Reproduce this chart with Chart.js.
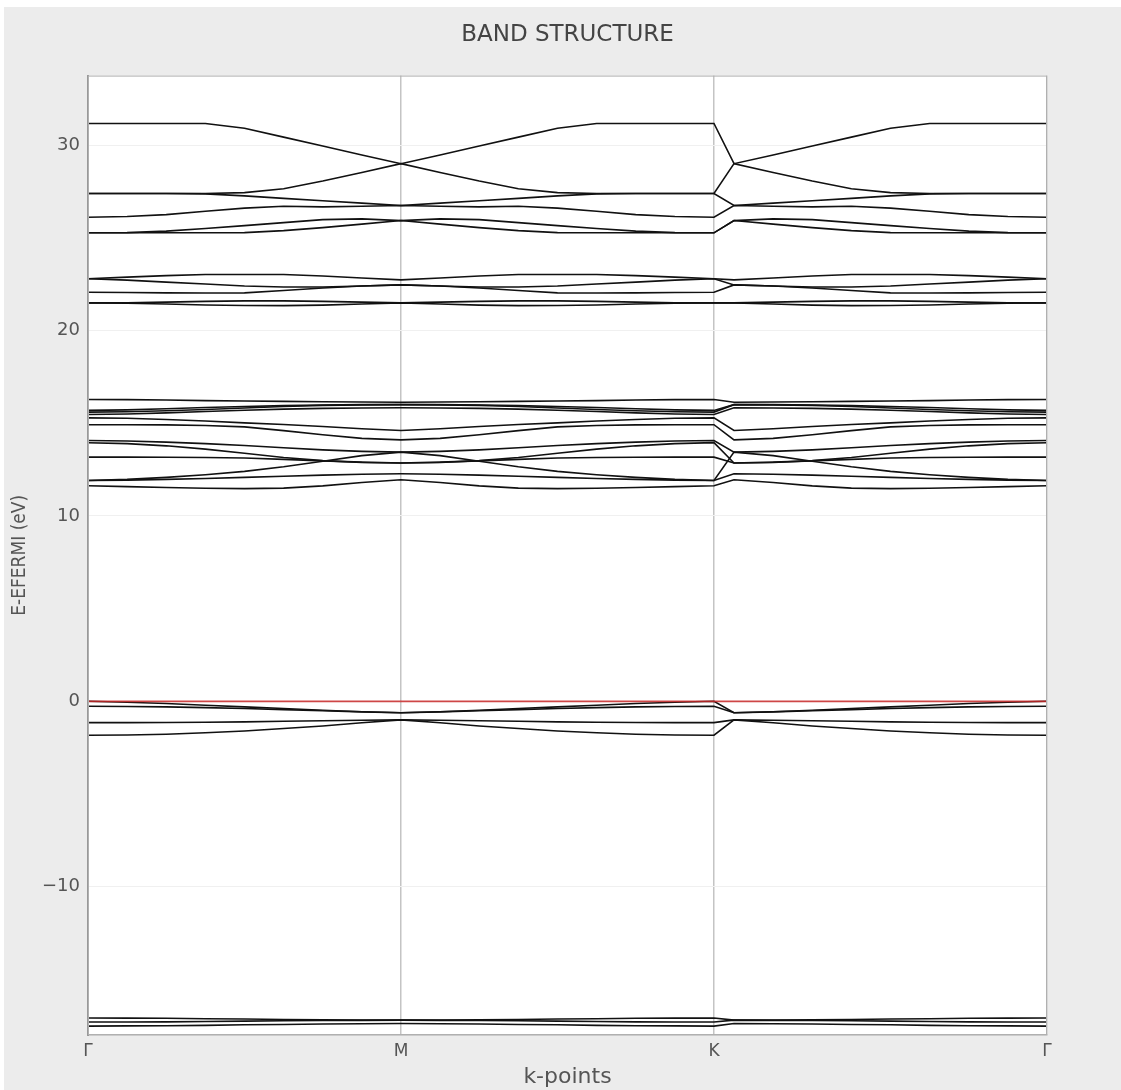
<!DOCTYPE html>
<html>
<head>
<meta charset="utf-8">
<script src="https://cdn.jsdelivr.net/npm/chart.js@4.4.1/dist/chart.umd.min.js"></script>
<style>
  body { margin: 0; background: #fff; }
  #wrap { position: absolute; left: 4px; top: 7px; width: 1117px; height: 1083px; background: #ececec; }
</style>
</head>
<body>
<div id="wrap"><canvas id="bands" width="1117" height="1083"></canvas></div>
<script>
// k-path distances (G-M, M-K, jump to K', K'-G) and labels
var kDist = [0, 0.125, 0.25, 0.375, 0.5, 0.625, 0.75, 0.875, 1,
	1.125, 1.25, 1.375, 1.5, 1.625, 1.75, 1.875, 2,
	2.064,
	2.189, 2.314, 2.439, 2.564, 2.689, 2.814, 2.939, 3.064];
var kTicks = [0, 1, 2, 3.064];
var kLabels = ['Γ', 'M', 'K', 'Γ'];
var yTicks = [-10, 0, 10, 20, 30];
var fermiLevel = 0;

// upper conduction bands (25-31 eV)
var b01 = [31.17,31.17,31.17,31.17,30.91,30.43,29.95,29.47,29.0, 29.47,29.95,30.43,30.91,31.17,31.17,31.17,31.17, 29.0, 29.47,29.95,30.43,30.91,31.17,31.17,31.17,31.17];
var b02 = [27.39,27.39,27.39,27.39,27.44,27.65,28.06,28.52,29.0, 28.52,28.06,27.65,27.44,27.39,27.39,27.39,27.39, 29.0, 28.52,28.06,27.65,27.44,27.39,27.39,27.39,27.39];
var b03 = [27.39,27.39,27.39,27.37,27.26,27.13,27.0,26.87,26.74, 26.87,27.0,27.13,27.26,27.37,27.39,27.39,27.39, 26.74, 26.87,27.0,27.13,27.26,27.37,27.39,27.39,27.39];
var b04 = [26.11,26.15,26.25,26.43,26.6,26.7,26.67,26.7,26.74, 26.7,26.67,26.7,26.6,26.43,26.25,26.15,26.11, 26.74, 26.7,26.67,26.7,26.6,26.43,26.25,26.15,26.11];
var b05 = [25.27,25.28,25.36,25.5,25.66,25.82,25.98,26.02,25.93, 26.02,25.98,25.82,25.66,25.5,25.36,25.28,25.27, 25.93, 26.02,25.98,25.82,25.66,25.5,25.36,25.28,25.27];
var b06 = [25.27,25.27,25.27,25.27,25.28,25.39,25.55,25.74,25.93, 25.74,25.55,25.39,25.28,25.27,25.27,25.27,25.27, 25.93, 25.74,25.55,25.39,25.28,25.27,25.27,25.27,25.27];

// 21-23 eV
var b07 = [22.79,22.88,22.96,23.02,23.02,23.02,22.94,22.83,22.73, 22.83,22.94,23.02,23.02,23.02,22.96,22.88,22.79, 22.73, 22.83,22.94,23.02,23.02,23.02,22.96,22.88,22.79];
var b08 = [22.79,22.72,22.61,22.51,22.4,22.35,22.35,22.4,22.46, 22.4,22.35,22.35,22.4,22.51,22.61,22.72,22.79, 22.46, 22.4,22.35,22.35,22.4,22.51,22.61,22.72,22.79];
var b09 = [22.06,22.05,22.03,22.02,22.03,22.16,22.29,22.4,22.46, 22.4,22.29,22.16,22.03,22.02,22.03,22.05,22.06, 22.46, 22.4,22.29,22.16,22.03,22.02,22.03,22.05,22.06];
var b10 = [21.49,21.5,21.53,21.57,21.6,21.6,21.57,21.53,21.49, 21.53,21.57,21.6,21.6,21.57,21.53,21.5,21.49, 21.49, 21.53,21.57,21.6,21.6,21.57,21.53,21.5,21.49];
var b11 = [21.49,21.47,21.43,21.38,21.35,21.34,21.37,21.43,21.49, 21.43,21.37,21.34,21.35,21.38,21.43,21.47,21.49, 21.49, 21.43,21.37,21.34,21.35,21.38,21.43,21.47,21.49];

// 11-16.5 eV
var b12 = [16.28,16.27,16.25,16.22,16.2,16.18,16.16,16.14,16.13, 16.14,16.16,16.18,16.2,16.22,16.25,16.27,16.28, 16.13, 16.14,16.16,16.18,16.2,16.22,16.25,16.27,16.28];
var b13 = [15.69,15.72,15.78,15.85,15.9,15.95,15.98,16.0,16.0, 16.0,15.98,15.95,15.9,15.85,15.78,15.72,15.69, 16.0, 16.0,15.98,15.95,15.9,15.85,15.78,15.72,15.69];
var b14 = [15.6,15.62,15.67,15.74,15.82,15.9,15.96,15.99,16.0, 15.99,15.96,15.9,15.82,15.74,15.67,15.62,15.6, 16.0, 15.99,15.96,15.9,15.82,15.74,15.67,15.62,15.6];
var b15 = [15.47,15.5,15.56,15.63,15.7,15.76,15.8,15.82,15.83, 15.82,15.8,15.76,15.7,15.63,15.56,15.5,15.47, 15.83, 15.82,15.8,15.76,15.7,15.63,15.56,15.5,15.47];
var b16 = [15.29,15.27,15.2,15.12,15.02,14.93,14.82,14.7,14.61, 14.7,14.82,14.93,15.02,15.12,15.2,15.27,15.29, 14.61, 14.7,14.82,14.93,15.02,15.12,15.2,15.27,15.29];
var b17 = [14.92,14.92,14.91,14.88,14.8,14.6,14.38,14.18,14.1, 14.18,14.38,14.6,14.8,14.88,14.91,14.92,14.92, 14.1, 14.18,14.38,14.6,14.8,14.88,14.91,14.92,14.92];
var b18 = [14.07,14.04,13.98,13.9,13.8,13.68,13.56,13.48,13.44, 13.48,13.56,13.68,13.8,13.9,13.98,14.04,14.07, 13.44, 13.48,13.56,13.68,13.8,13.9,13.98,14.04,14.07];
var b19 = [13.95,13.9,13.78,13.6,13.38,13.15,12.98,12.88,12.85, 12.88,12.98,13.15,13.38,13.6,13.78,13.9,13.95, 12.85, 12.88,12.98,13.15,13.38,13.6,13.78,13.9,13.95];
var b20 = [13.17,13.17,13.16,13.15,13.12,13.05,12.97,12.9,12.85, 12.9,12.97,13.05,13.12,13.15,13.16,13.17,13.17, 12.85, 12.9,12.97,13.05,13.12,13.15,13.16,13.17,13.17];
var b21 = [11.91,11.97,12.08,12.22,12.4,12.65,12.95,13.25,13.44, 13.25,12.95,12.65,12.4,12.22,12.08,11.97,11.91, 13.44, 13.25,12.95,12.65,12.4,12.22,12.08,11.97,11.91];
var b22 = [11.91,11.93,11.97,12.02,12.08,12.14,12.2,12.25,12.27, 12.25,12.2,12.14,12.08,12.02,11.97,11.93,11.91, 12.27, 12.25,12.2,12.14,12.08,12.02,11.97,11.93,11.91];
var b23 = [11.63,11.58,11.53,11.49,11.47,11.5,11.62,11.8,11.95, 11.8,11.62,11.5,11.47,11.49,11.53,11.58,11.63, 11.95, 11.8,11.62,11.5,11.47,11.49,11.53,11.58,11.63];

// valence bands near the Fermi level
var b24 = [0,-0.05,-0.12,-0.21,-0.3,-0.39,-0.48,-0.56,-0.62, -0.56,-0.48,-0.39,-0.3,-0.21,-0.12,-0.05,0, -0.62, -0.56,-0.48,-0.39,-0.3,-0.21,-0.12,-0.05,0];
var b25 = [-0.27,-0.28,-0.3,-0.34,-0.39,-0.45,-0.51,-0.57,-0.62, -0.57,-0.51,-0.45,-0.39,-0.34,-0.3,-0.28,-0.27, -0.62, -0.57,-0.51,-0.45,-0.39,-0.34,-0.3,-0.28,-0.27];
var b26 = [-1.15,-1.15,-1.14,-1.13,-1.11,-1.08,-1.05,-1.02,-1.0, -1.02,-1.05,-1.08,-1.11,-1.13,-1.14,-1.15,-1.15, -1.0, -1.02,-1.05,-1.08,-1.11,-1.13,-1.14,-1.15,-1.15];
var b27 = [-1.83,-1.82,-1.78,-1.7,-1.6,-1.47,-1.33,-1.16,-1.0, -1.16,-1.33,-1.47,-1.6,-1.7,-1.78,-1.82,-1.83, -1.0, -1.16,-1.33,-1.47,-1.6,-1.7,-1.78,-1.82,-1.83];

// deep bands
var b28 = [-17.08,-17.09,-17.1,-17.12,-17.14,-17.16,-17.18,-17.19,-17.2, -17.19,-17.18,-17.16,-17.14,-17.12,-17.1,-17.09,-17.08, -17.2, -17.19,-17.18,-17.16,-17.14,-17.12,-17.1,-17.09,-17.08];
var b29 = [-17.3,-17.3,-17.29,-17.27,-17.25,-17.23,-17.22,-17.21,-17.2, -17.21,-17.22,-17.23,-17.25,-17.27,-17.29,-17.3,-17.3, -17.2, -17.21,-17.22,-17.23,-17.25,-17.27,-17.29,-17.3,-17.3];
var b30 = [-17.52,-17.51,-17.5,-17.48,-17.45,-17.43,-17.41,-17.39,-17.38, -17.39,-17.41,-17.43,-17.45,-17.48,-17.5,-17.51,-17.52, -17.38, -17.39,-17.41,-17.43,-17.45,-17.48,-17.5,-17.51,-17.52];

var bands = [b01,b02,b03,b04,b05,b06,b07,b08,b09,b10,b11,b12,b13,b14,b15,
	b16,b17,b18,b19,b20,b21,b22,b23,b24,b25,b26,b27,b28,b29,b30];

var datasets = [{
	data: [{x: kTicks[0], y: fermiLevel}, {x: kTicks[kTicks.length - 1], y: fermiLevel}],
	borderColor: 'rgba(200,40,40,0.85)',
	borderWidth: 1.8,
	pointRadius: 0
}];
bands.forEach(function (band) {
	datasets.push({
		data: band.map(function (e, i) { return {x: kDist[i], y: e}; }),
		borderColor: '#111',
		borderWidth: 1.6,
		pointRadius: 0,
		tension: 0
	});
});

// white plot area plus a light frame
var frame = {
	id: 'frame',
	beforeDraw: function (chart) {
		var a = chart.chartArea, ctx = chart.ctx;
		ctx.save();
		ctx.fillStyle = '#fff';
		ctx.fillRect(a.left, a.top, a.right - a.left, a.bottom - a.top);
		ctx.restore();
	},
	afterDraw: function (chart) {
		var a = chart.chartArea, ctx = chart.ctx;
		ctx.save();
		ctx.strokeStyle = '#b0b0b0';
		ctx.lineWidth = 1;
		ctx.strokeRect(a.left + 0.5, a.top + 0.5, a.right - a.left - 1, a.bottom - a.top - 1);
		ctx.restore();
	}
};

var font = 'DejaVu Sans';
new Chart(document.getElementById('bands'), {
	type: 'line',
	data: {datasets: datasets},
	plugins: [frame],
	options: {
		responsive: false,
		animation: false,
		devicePixelRatio: 1,
		layout: {padding: {left: 0, right: 74, top: 0, bottom: 0}},
		plugins: {
			legend: {display: false},
			tooltip: {enabled: false},
			title: {
				display: true,
				fullSize: false,
				text: 'BAND STRUCTURE',
				color: '#444',
				font: {family: font, size: 23, weight: 'normal'},
				padding: {top: 14, bottom: 27}
			}
		},
		scales: {
			x: {
				type: 'linear',
				min: 0,
				max: 3.064,
				afterBuildTicks: function (s) { s.ticks = kTicks.map(function (v) { return {value: v}; }); },
				afterFit: function (s) { s.height = 55; },
				ticks: {
					autoSkip: false,
					maxRotation: 0,
					color: '#555',
					font: {family: font, size: 17},
					padding: 6,
					callback: function (v, i) { return kLabels[i]; }
				},
				grid: {color: '#c4c4c4', lineWidth: 1.5, drawTicks: false},
				border: {color: '#aaa', width: 1.5},
				title: {
					display: true,
					text: 'k-points',
					color: '#555',
					font: {family: font, size: 22},
					padding: {top: 0, bottom: 0}
				}
			},
			y: {
				min: -18,
				max: 33.75,
				afterBuildTicks: function (s) { s.ticks = yTicks.map(function (v) { return {value: v}; }); },
				afterFit: function (s) { s.width = 84; },
				ticks: {
					color: '#555',
					font: {family: font, size: 18},
					padding: 8,
					callback: function (v) { return v < 0 ? '\u2212' + Math.abs(v) : String(v); }
				},
				grid: {color: '#f0f0f0', drawTicks: false},
				border: {color: '#999', width: 2},
				title: {
					display: true,
					text: 'E-EFERMI (eV)',
					color: '#555',
					font: {family: 'DejaVu Sans Condensed', size: 19},
					padding: {top: 5, bottom: 0}
				}
			}
		}
	}
});
</script>
</body>
</html>
